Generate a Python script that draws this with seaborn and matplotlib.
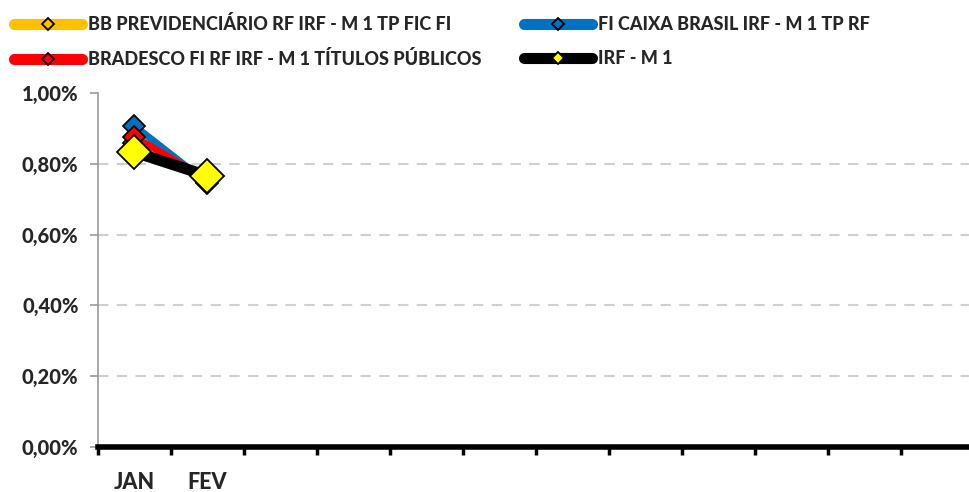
import pandas as pd
import numpy as np
import seaborn as sns
import matplotlib.pyplot as plt
from matplotlib.lines import Line2D
from matplotlib.ticker import FuncFormatter

# Dados
meses = ['JAN', 'FEV', 'MAR', 'ABR', 'MAI', 'JUN', 'JUL', 'AGO', 'SET', 'OUT', 'NOV', 'DEZ']
meses_rotulo = ['JAN', 'FEV', '', '', '', '', '', '', '', '', '', '']
series = ['BB PREVIDENCIÁRIO RF IRF - M 1 TP FIC FI',
          'FI CAIXA BRASIL IRF - M 1 TP RF',
          'BRADESCO FI RF IRF - M 1 TÍTULOS PÚBLICOS',
          'IRF - M 1']
bb = [0.86, 0.75]
caixa = [0.907, 0.746]
bradesco = [0.876, 0.755]
irf = [0.833, 0.766]

cores = ['#FFC000', '#0070C0', '#FF0000', '#000000']
marcador_cor = ['#FFC000', '#0070C0', '#FF0000', '#FFFF00']
largura = [5, 5, 5, 8]
tam_marc = [11, 11, 11, 17]

df = pd.DataFrame({
    'mes': meses[:2] * 4,
    'serie': np.repeat(series, 2),
    'valor': bb + caixa + bradesco + irf,
})
df['pos'] = df['mes'].map(meses.index)

sns.set_style('white')
plt.rcParams['font.family'] = ['Lato', 'DejaVu Sans']
plt.rcParams['font.weight'] = 'black'

fig = plt.figure(figsize=(9.7, 4.92), dpi=100)
ax = fig.add_axes([0.101, 0.0915, 0.903, 0.7195])

for i, s in enumerate(series):
    d = df[df['serie'] == s]
    sns.lineplot(data=d, x='pos', y='valor', ax=ax, color=cores[i], lw=largura[i],
                 marker='D', markersize=tam_marc[i], markerfacecolor=marcador_cor[i],
                 markeredgecolor='black', markeredgewidth=1.3, solid_capstyle='round',
                 legend=False, zorder=3 + i)

ax.set_xlim(-0.5, 11.5)
ax.set_ylim(0, 1.0)
ax.set_yticks(np.arange(0, 1.01, 0.2))
ax.yaxis.set_major_formatter(FuncFormatter(lambda v, p: f'{v:.2f}%'.replace('.', ',')))
ax.set_xticks(np.arange(-0.5, 11.5, 1))
ax.set_xticklabels([])
ax.set_xticks(np.arange(0, 12, 1), minor=True)
ax.set_xticklabels(meses_rotulo, minor=True)
ax.tick_params(axis='x', which='major', bottom=True, direction='out', length=6, width=2.5, color='black')
ax.tick_params(axis='x', which='minor', bottom=True, length=0, pad=18, labelsize=15.5)
ax.tick_params(axis='y', left=True, direction='out', length=6, width=1.2, color='#999999', labelsize=14.5, pad=8)
ax.set_xlabel('')
ax.set_ylabel('')

for v in [0.2, 0.4, 0.6, 0.8]:
    ax.axhline(v, color='#D0D0D0', lw=1.5, ls=(0, (5, 4)), zorder=1)

for sp in ['top', 'right']:
    ax.spines[sp].set_visible(False)
ax.spines['left'].set_color('#999999')
ax.spines['left'].set_linewidth(1.2)
ax.spines['bottom'].set_color('black')
ax.spines['bottom'].set_linewidth(4)

handles = [Line2D([0], [0], color=cores[i], lw=8, solid_capstyle='round', marker='D', markersize=6,
                  markerfacecolor='none' if i < 3 else '#FFFF00', markeredgecolor='black',
                  markeredgewidth=1.3) for i in range(4)]
ordem = [0, 2, 1, 3]
fig.legend([handles[i] for i in ordem], [series[i] for i in ordem], ncol=2,
           loc='upper left', bbox_to_anchor=(-0.008, 1.013), frameon=False, fontsize=13,
           handlelength=3.75, handletextpad=0.35, columnspacing=2.35, labelspacing=0.95,
           borderpad=0.7)

plt.savefig('out.png', dpi=100)
